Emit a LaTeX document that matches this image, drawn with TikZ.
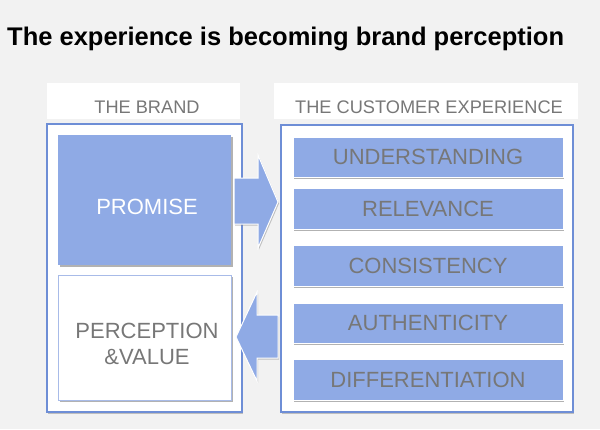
\documentclass[tikz,border=0pt]{standalone}
\usepackage{fontspec}
\setmainfont{Liberation Sans}
\usetikzlibrary{shadows}
\definecolor{bg}{HTML}{F2F2F2}
\definecolor{barblue}{HTML}{8FAAE5}
\definecolor{edgeblue}{HTML}{6E8ED6}
\definecolor{lightedge}{HTML}{A8BBE8}
\definecolor{txtgray}{HTML}{777777}
\begin{document}
\begin{tikzpicture}[x=1pt,y=-1pt,
  hdrbox/.style={fill=white, draw=none, inner sep=0pt, minimum height=36pt},
  hdrtext/.style={text=txtgray, inner sep=0pt, anchor=base, font=\fontsize{18.2}{20}\selectfont},
  outerbox/.style={fill=white, draw=edgeblue, line width=1.2pt, inner sep=0pt,
    drop shadow={shadow xshift=0.5pt, shadow yshift=-1.5pt, opacity=0.45}},
  bigbox/.style={inner sep=0pt, minimum width=173pt,
    drop shadow={shadow xshift=1.5pt, shadow yshift=-2pt, opacity=0.6}},
  bar/.style={fill=barblue, draw=white, line width=0.8pt, inner sep=0pt,
    minimum width=270pt, text=txtgray, font=\fontsize{22}{24}\selectfont,
    drop shadow={shadow xshift=0.8pt, shadow yshift=-2pt, opacity=0.6}},
  bigtext/.style={inner sep=0pt, anchor=base, font=\fontsize{22}{26}\selectfont, align=center},
  blockarrow/.style={fill=barblue, draw=white, line width=1pt,
    drop shadow={shadow xshift=1pt, shadow yshift=-1.5pt, opacity=0.45}}
]
\fill[bg] (0,0) rectangle (600,429);
\useasboundingbox (0,0) rectangle (600,429);

% title
\node[anchor=base west, inner sep=0pt, font=\bfseries\fontsize{25.5}{28}\selectfont] (title) at (7,45)
  {The experience is becoming brand perception};

% headers
\node[hdrbox, minimum width=193pt] (brandhdr) at (143.5,101) {};
\node[hdrtext] (brandhdrtxt) at (147,113) {THE BRAND};
\node[hdrbox, minimum width=304pt] (custhdr) at (426,101) {};
\node[hdrtext] (custhdrtxt) at (429,113) {THE CUSTOMER EXPERIENCE};

% outer boxes
\node[outerbox, minimum width=195pt, minimum height=288pt] (brandbox) at (144.5,268) {};
\node[outerbox, minimum width=292pt, minimum height=287pt] (custbox) at (427,268.5) {};

% promise / perception
\node[bigbox, fill=barblue, draw=none, minimum height=130pt] (promise) at (144.5,200) {};
\node[bigtext, text=white] (promisetxt) at (147,214) {PROMISE};
\node[bigbox, fill=white, draw=lightedge, line width=0.8pt, minimum height=125pt] (perception) at (144.5,337.5) {};
\node[bigtext, text=txtgray] (perctxt1) at (147,338) {PERCEPTION};
\node[bigtext, text=txtgray] (perctxt2) at (147,364) {\&VALUE};

% bars
\node[bar, minimum height=40pt] (b1) at (428,157) {UNDERSTANDING};
\node[bar, minimum height=41pt] (b2) at (428,208.5) {RELEVANCE};
\node[bar, minimum height=41pt] (b3) at (428,265.5) {CONSISTENCY};
\node[bar, minimum height=40pt] (b4) at (428,323) {AUTHENTICITY};
\node[bar, minimum height=41pt] (b5) at (428,379.5) {DIFFERENTIATION};

% block arrows
\path[blockarrow] (234,178) -- (258,178) -- (258,155) -- (278,202) -- (258,248) -- (258,224) -- (234,224) -- cycle;
\path[blockarrow] (236,337) -- (257,292) -- (257,315) -- (278,315) -- (278,358) -- (257,358) -- (257,381) -- cycle;
\end{tikzpicture}
\end{document}
